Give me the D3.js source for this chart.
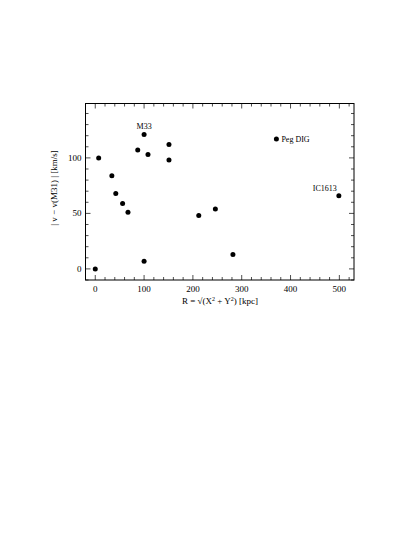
<!doctype html>
<html>
<head>
<style>
  body { margin: 0; background: #fff; }
  text { font-family: "Liberation Serif", "DejaVu Serif", serif; fill: #000; }
</style>
<script src="https://d3js.org/d3.v7.min.js"></script>
</head>
<body>
<svg width="415" height="537"></svg>
<script>
// galaxies: distance R [kpc] and |v - v(M31)| [km/s]
var names = ["", "", "", "", "", "", "", "M33", "", "", "", "", "", "", "", "Peg DIG", "IC1613"];
var rVals = [0, 7, 34, 42, 56, 67, 87, 100, 100, 108, 151, 151, 212, 246, 282, 371, 499];
var vVals = [0, 100, 84, 68, 59, 51, 107, 121, 7, 103, 112, 98, 48, 54, 13, 117, 66];
var xTicks = [0, 100, 200, 300, 400, 500];
var yTicks = [0, 50, 100];

var svg = d3.select("svg"),
    pLeft = 85.5, pRight = 354, pTop = 103.5, pBottom = 280;

var x = d3.scaleLinear().domain([-20, 530]).range([pLeft, pRight]);
var y = d3.scaleLinear().domain([-10, 149]).range([pBottom, pTop]);

var g = svg.append("g");

// minor + major ticks, pointing inward on all four sides
var xMinor = d3.range(-20, 531, 20);
var yMinor = d3.range(-10, 150, 10);

function tickLen(v, step) { return v % step === 0 ? 5 : 3; }

xMinor.forEach(function(v) {
  var L = tickLen(v, 100);
  g.append("line").attr("x1", x(v)).attr("x2", x(v)).attr("y1", pBottom).attr("y2", pBottom - L)
   .attr("stroke", "#000").attr("stroke-width", 0.7);
  g.append("line").attr("x1", x(v)).attr("x2", x(v)).attr("y1", pTop).attr("y2", pTop + L)
   .attr("stroke", "#000").attr("stroke-width", 0.7);
});
yMinor.forEach(function(v) {
  var L = tickLen(v, 50);
  g.append("line").attr("y1", y(v)).attr("y2", y(v)).attr("x1", pLeft).attr("x2", pLeft + L)
   .attr("stroke", "#000").attr("stroke-width", 0.7);
  g.append("line").attr("y1", y(v)).attr("y2", y(v)).attr("x1", pRight).attr("x2", pRight - L)
   .attr("stroke", "#000").attr("stroke-width", 0.7);
});

// frame
g.append("rect").attr("x", pLeft).attr("y", pTop)
 .attr("width", pRight - pLeft).attr("height", pBottom - pTop)
 .attr("fill", "none").attr("stroke", "#000").attr("stroke-width", 1);

// tick labels
g.selectAll(".xl").data(xTicks).enter().append("text")
 .attr("x", function(d) { return x(d); }).attr("y", pBottom + 12)
 .attr("text-anchor", "middle").attr("font-size", "9px").text(function(d) { return d; });
g.selectAll(".yl").data(yTicks).enter().append("text")
 .attr("x", pLeft - 4).attr("y", function(d) { return y(d) + 3; })
 .attr("text-anchor", "end").attr("font-size", "9px").text(function(d) { return d; });

// axis titles
var xt = g.append("text").attr("x", 220).attr("y", 304)
 .attr("text-anchor", "middle").attr("font-size", "9px");
xt.append("tspan").text("R = \u221A(X");
xt.append("tspan").attr("font-size", "6px").attr("dy", -3.5).text("2");
xt.append("tspan").attr("dy", 3.5).text(" + Y");
xt.append("tspan").attr("font-size", "6px").attr("dy", -3.5).text("2");
xt.append("tspan").attr("dy", 3.5).text(") [kpc]");

g.append("text").attr("transform", "translate(57,188) rotate(-90)")
 .attr("text-anchor", "middle").attr("font-size", "9px")
 .text("| v \u2212 v(M31) | [km/s]");

// points
var pts = rVals.map(function(r, i) { return { r: r, v: vVals[i], name: names[i] }; });
g.selectAll(".dot").data(pts).enter().append("circle")
 .attr("cx", function(d) { return x(d.r); })
 .attr("cy", function(d) { return y(d.v); })
 .attr("r", 2.5).attr("fill", "#000");

// labels
pts.forEach(function(d) {
  if (d.name === "M33") {
    g.append("text").attr("x", x(d.r)).attr("y", y(d.v) - 6)
     .attr("text-anchor", "middle").attr("font-size", "8px").text(d.name);
  } else if (d.name === "Peg DIG") {
    g.append("text").attr("x", x(d.r) + 5).attr("y", y(d.v) + 3)
     .attr("font-size", "8px").text(d.name);
  } else if (d.name === "IC1613") {
    g.append("text").attr("x", x(d.r) - 2).attr("y", y(d.v) - 5)
     .attr("text-anchor", "end").attr("font-size", "8px").text(d.name);
  }
});
</script>
</body>
</html>
